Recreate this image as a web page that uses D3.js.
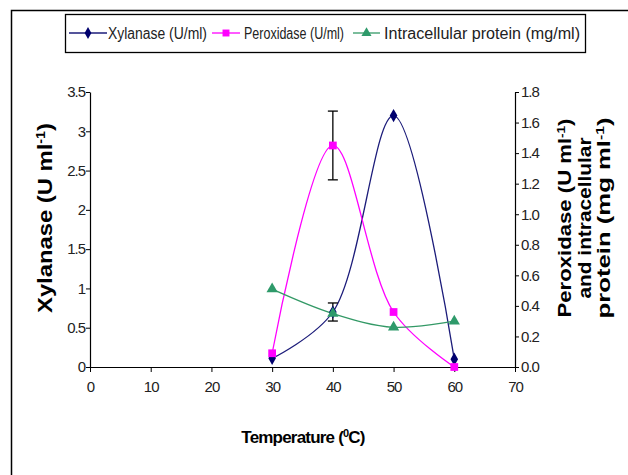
<!DOCTYPE html>
<html><head><meta charset="utf-8">
<script src="https://cdn.jsdelivr.net/npm/d3@7"></script>
<style>body{margin:0;background:#fff}svg{display:block}text{font-family:"Liberation Sans",Arial,sans-serif}</style>
</head><body><svg id="c" width="628" height="475"></svg>
<script>
const temperature = [30, 40, 50, 60];
const xylanase = [0.11, 0.70, 3.20, 0.10];
const xylanaseErr = [0, 0.115, 0, 0];
const peroxidase = [0.09, 1.45, 0.36, 0.0];
const peroxidaseErr = [0, 0.225, 0, 0];
const protein = [0.51, 0.35, 0.26, 0.30];
const xTicks = [0, 10, 20, 30, 40, 50, 60, 70];
const leftTicks = [0, 0.5, 1, 1.5, 2, 2.5, 3, 3.5];
const rightTicks = [0, 0.2, 0.4, 0.6, 0.8, 1.0, 1.2, 1.4, 1.6, 1.8];
const legendLabels = ["Xylanase (U/ml)", "Peroxidase (U/ml)", "Intracellular protein (mg/ml)"];

const svg = d3.select("#c");
const L = 90, R = 515, T = 92, B = 367;
const x = d3.scaleLinear().domain([0, 70]).range([L, R]);
const yL = d3.scaleLinear().domain([0, 3.5]).range([B, T]);
const yR = d3.scaleLinear().domain([0, 1.8]).range([B, T]);

// outer frame
svg.append("path").attr("d", `M11.5,480 V10.5 H640`).attr("fill", "none").attr("stroke", "#000").attr("stroke-width", 1.5);

// axes
const ax = svg.append("g").attr("transform", `translate(0,${B})`)
  .call(d3.axisBottom(x).tickValues(xTicks).tickSize(5).tickSizeOuter(0).tickFormat(d3.format("d")));
const ayl = svg.append("g").attr("transform", `translate(${L},0)`)
  .call(d3.axisLeft(yL).tickValues(leftTicks).tickSize(4).tickSizeOuter(0).tickFormat(d => Number.isInteger(d) ? d3.format("d")(d) : d3.format(".1f")(d)));
const ayr = svg.append("g").attr("transform", `translate(${R},0)`)
  .call(d3.axisRight(yR).tickValues(rightTicks).tickSize(4).tickSizeOuter(0).tickFormat(d3.format(".1f")));
[ax, ayl, ayr].forEach(g => {
  g.select(".domain").attr("stroke", "#000").attr("stroke-width", 1.2);
  g.selectAll(".tick line").attr("stroke", "#000");
  g.selectAll("text").attr("font-size", 15).attr("fill", "#222").attr("letter-spacing", -1);
});
ax.selectAll("text").attr("dy", "1.15em");
ayl.selectAll("text").attr("x", -5);
ayr.selectAll("text").attr("x", 6);

// axis titles
const lt = svg.append("text").attr("transform", `translate(52,${218}) rotate(-90)`).attr("text-anchor", "middle")
  .attr("font-size", 20).attr("font-weight", "bold").attr("textLength", 190).attr("lengthAdjust", "spacingAndGlyphs");
lt.append("tspan").text("Xylanase (U ml");
lt.append("tspan").attr("baseline-shift", "super").attr("font-size", 12).text("-1");
lt.append("tspan").text(")");

const rt = [["Peroxidase (U ml", "-1", ")", 571, 199], ["and intracellular", "", "", 591, 161], ["protein (mg ml", "-1", ")", 610, 201]];
rt.forEach(r => {
  const t = svg.append("text").attr("transform", `translate(${r[3]},218) rotate(-90)`).attr("text-anchor", "middle")
    .attr("font-size", 18).attr("font-weight", "bold").attr("textLength", r[4]).attr("lengthAdjust", "spacingAndGlyphs");
  t.append("tspan").text(r[0]);
  if (r[1]) { t.append("tspan").attr("baseline-shift", "super").attr("font-size", 11).text(r[1]); t.append("tspan").text(r[2]); }
});
const xt = svg.append("text").attr("x", 303).attr("y", 443).attr("text-anchor", "middle")
  .attr("font-size", 17).attr("font-weight", "bold").attr("letter-spacing", -0.8);
xt.append("tspan").text("Temperature (");
xt.append("tspan").attr("baseline-shift", "super").attr("font-size", 11).text("0");
xt.append("tspan").text("C)");

// series
const curve = d3.curveCatmullRom.alpha(0.5);
const series = [
  {vals: xylanase, err: xylanaseErr, y: yL, color: "#00006e", marker: d3.symbolDiamond, size: 50},
  {vals: peroxidase, err: peroxidaseErr, y: yR, color: "#ff00ff", marker: d3.symbolSquare, size: 60},
  {vals: protein, err: null, y: yR, color: "#2e9a6a", marker: d3.symbolTriangle, size: 55}
];
const lineColors = ["#1c1c7a", "#ff00ff", "#339966"];
series.forEach((s, k) => {
  const pts = temperature.map((t, i) => [x(t), s.y(s.vals[i])]);
  svg.append("path").attr("d", d3.line().curve(curve)(pts)).attr("fill", "none").attr("stroke", lineColors[k]).attr("stroke-width", 1.3);
});
series.forEach(s => {
  if (s.err) temperature.forEach((t, i) => {
    if (!s.err[i]) return;
    const cx = x(t), y1 = s.y(s.vals[i] + s.err[i]), y2 = s.y(s.vals[i] - s.err[i]);
    const g = svg.append("g").attr("stroke", "#000").attr("stroke-width", 1.3);
    g.append("line").attr("x1", cx).attr("x2", cx).attr("y1", y1).attr("y2", y2);
    g.append("line").attr("x1", cx-5).attr("x2", cx+5).attr("y1", y1).attr("y2", y1);
    g.append("line").attr("x1", cx-5).attr("x2", cx+5).attr("y1", y2).attr("y2", y2);
  });
});
series.forEach(s => {
  svg.append("g").selectAll("path").data(temperature).join("path")
    .attr("transform", (t, i) => `translate(${x(t)},${s.y(s.vals[i])})`)
    .attr("d", d3.symbol().type(s.marker).size(s.size)).attr("fill", s.color);
});

// legend
svg.append("rect").attr("x", 65.5).attr("y", 14.5).attr("width", 520).attr("height", 38).attr("fill", "#fff").attr("stroke", "#000").attr("stroke-width", 1.3);
const legLine = [[69, 107], [212, 240], [353, 380]];
const legText = [[108, 99], [244, 100], [384, 196]];
series.forEach((s, i) => {
  const g = svg.append("g");
  const [a, b] = legLine[i];
  g.append("line").attr("x1", a).attr("x2", b).attr("y1", 33).attr("y2", 33).attr("stroke", lineColors[i]).attr("stroke-width", 1.3);
  g.append("path").attr("transform", `translate(${(a+b)/2},33)`).attr("d", d3.symbol().type(s.marker).size(s.size*0.8)).attr("fill", s.color);
  g.append("text").attr("x", legText[i][0]).attr("y", 39).attr("font-size", 16)
    .attr("textLength", legText[i][1]).attr("lengthAdjust", "spacingAndGlyphs").attr("fill", "#222").text(legendLabels[i]);
});
</script></body></html>
